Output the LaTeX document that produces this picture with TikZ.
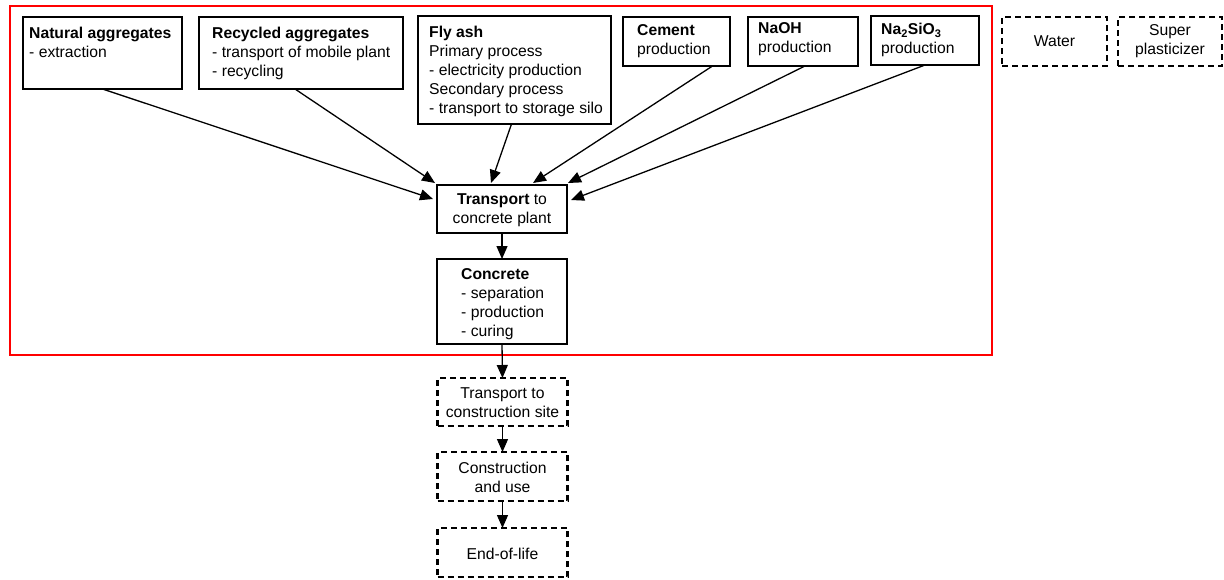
\documentclass[tikz,border=0pt]{standalone}
\usepackage{fontspec}
\setmainfont{Liberation Sans}
\usetikzlibrary{arrows.meta}
\tikzset{
  box/.style={draw, line width=2pt, inner sep=0pt, outer sep=0pt, anchor=north west},
  dbox/.style={box, line width=2.4pt, dash pattern=on 6pt off 4pt},
  txt/.style={inner sep=0pt, align=left, anchor=north west, font=\fontsize{15.7pt}{19pt}\selectfont},
  ctxt/.style={inner sep=0pt, align=center, font=\fontsize{15.7pt}{19pt}\selectfont},
  flow/.style={line width=1.3pt, -{Triangle[length=13pt,width=11pt]}}
}
\begin{document}
\begin{tikzpicture}[x=1pt,y=-1pt]
\useasboundingbox (0,0) rectangle (1224,579);

% system boundary
\node (sysb) [draw=red, line width=2pt, inner sep=0pt, outer sep=0pt, anchor=north west,
  minimum width=982pt, minimum height=349pt] at (10,6) {};

% input processes
\node (nat) [box, minimum width=159pt, minimum height=72pt] at (23,17) {};
\node (natT) [txt] at (29,27) {\textbf{Natural aggregates}\\- extraction};

\node (rec) [box, minimum width=204pt, minimum height=72pt] at (199,17) {};
\node (recT) [txt] at (212,27) {\textbf{Recycled aggregates}\\- transport of mobile plant\\- recycling};

\node (fly) [box, minimum width=193pt, minimum height=108pt] at (418,16) {};
\node (flyT) [txt] at (429,26) {\textbf{Fly ash}\\Primary process\\- electricity production\\Secondary process\\- transport to storage silo};

\node (cem) [box, minimum width=107pt, minimum height=49pt] at (623,17) {};
\node (cemT) [txt] at (637,24.5) {\textbf{Cement}\\production};

\node (naoh) [box, minimum width=110pt, minimum height=49pt] at (748,17) {};
\node (naohT) [txt] at (758,22.5) {\textbf{NaOH}\\production};

\node (nasi) [box, minimum width=108pt, minimum height=49pt] at (871,16) {};
\node (nasiT) [txt] at (881,23) {\textbf{Na\textsubscript{2}SiO\textsubscript{3}}\\production};

% inputs outside the boundary
\node (wat) [dbox, minimum width=105pt, minimum height=49pt] at (1002,17) {};
\node (watT) [ctxt] at (wat.center) {Water};

\node (sup) [dbox, minimum width=104pt, minimum height=49pt] at (1118,17) {};
\node (supT) [ctxt] at (sup.center) {Super\\plasticizer};

% main chain
\node (tp) [box, minimum width=130pt, minimum height=48pt] at (437,185) {};
\node (tpT) [ctxt] at ([yshift=-1pt]tp.center) {\textbf{Transport} to\\concrete plant};

\node (cc) [box, minimum width=130pt, minimum height=85pt] at (437,259) {};
\node (ccT) [txt] at (461,268) {\textbf{Concrete}\\- separation\\- production\\- curing};

\node (ts) [dbox, minimum width=130pt, minimum height=48pt] at (437.5,378) {};
\node (tsT) [ctxt] at ([yshift=-1pt]ts.center) {Transport to\\construction site};

\node (cu) [dbox, minimum width=130pt, minimum height=49pt] at (437.5,452) {};
\node (cuT) [ctxt] at ([yshift=-1pt]cu.center) {Construction\\and use};

\node (eol) [dbox, minimum width=130pt, minimum height=49pt] at (437.5,528) {};
\node (eolT) [ctxt] at ([yshift=-1pt]eol.center) {End-of-life};

% flows into transport
\draw[flow] (nat.south) -- ([xshift=-4pt,yshift=10pt]tp.west);
\draw[flow] ([xshift=-6pt]rec.south) -- ([xshift=-2pt,yshift=2pt]tp.north west);
\draw[flow] ([xshift=-3pt]fly.south) -- ([xshift=-11pt,yshift=2pt]tp.north);
\draw[flow] ([xshift=36pt]cem.south) -- ([xshift=31pt,yshift=2pt]tp.north);
\draw[flow] ([xshift=2pt]naoh.south) -- ([xshift=1pt,yshift=2pt]tp.north east);
\draw[flow] (nasi.south) -- ([xshift=4pt,yshift=9pt]tp.east);

% downstream flows
\draw[flow] (tp.south) -- (cc.north);
\draw[flow] (cc.south) -- (ts.north);
\draw[flow] (ts.south) -- (cu.north);
\draw[flow] (cu.south) -- (eol.north);
\end{tikzpicture}
\end{document}
